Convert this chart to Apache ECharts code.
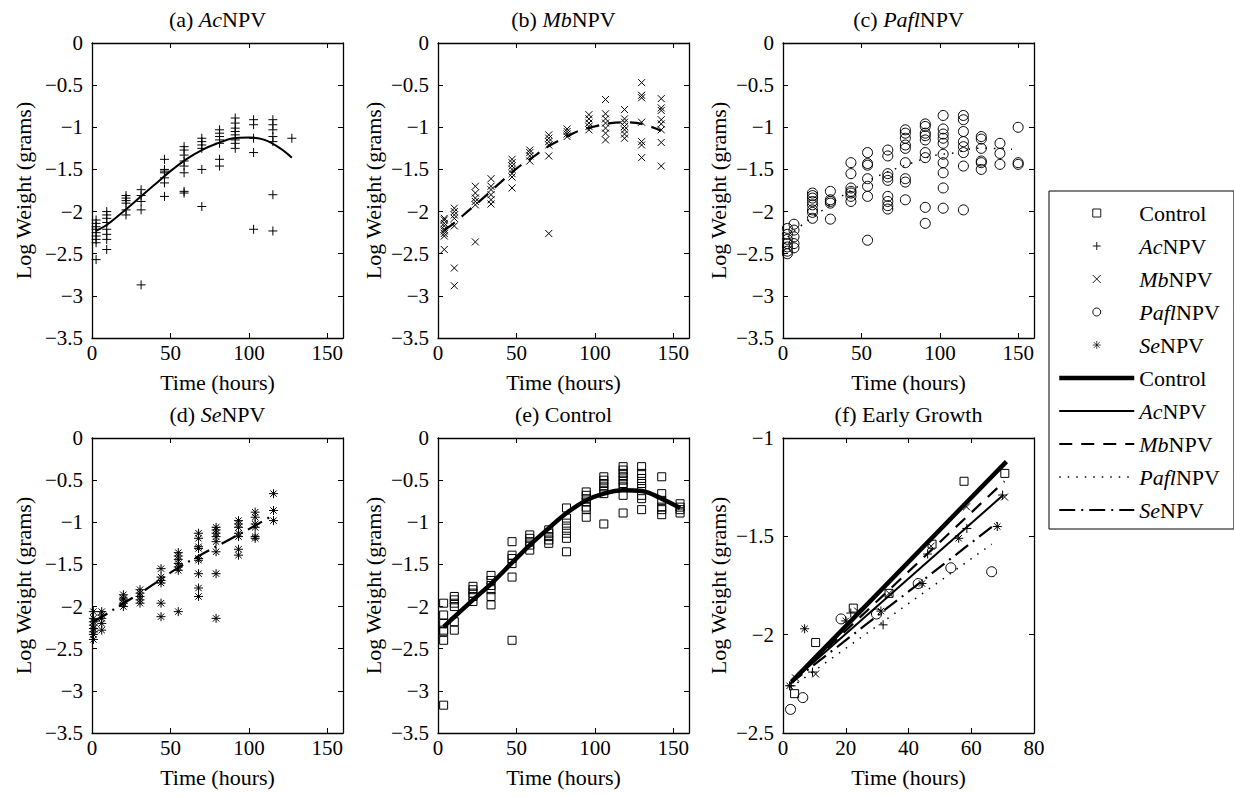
<!DOCTYPE html>
<html><head><meta charset="utf-8">
<script src="https://cdn.jsdelivr.net/npm/echarts@6/dist/echarts.min.js"></script>
<style>html,body{margin:0;padding:0;background:#fff}#chart{width:1234px;height:798px}</style>
</head><body><div id="chart"></div>
<script>
// ---------------- DATA ----------------
// (a) AcNPV observations: sampling times and the observed log weights at each time
const acTimes = [2.6, 9.4, 21.7, 31.3, 46.2, 58.7, 70.0, 81.3, 91.3, 103.0, 115.3, 127.4];
const acValues = [
  [-2.10,-2.14,-2.18,-2.21,-2.25,-2.29,-2.33,-2.37,-2.57],
  [-2.00,-2.04,-2.08,-2.13,-2.21,-2.27,-2.33,-2.45],
  [-1.81,-1.84,-1.87,-1.90,-1.98,-2.04],
  [-1.74,-1.81,-1.88,-1.98,-2.87],
  [-1.38,-1.50,-1.52,-1.54,-1.60,-1.66,-1.82],
  [-1.23,-1.27,-1.33,-1.40,-1.46,-1.54,-1.76,-1.78],
  [-1.13,-1.17,-1.21,-1.25,-1.50,-1.94],
  [-1.03,-1.07,-1.11,-1.15,-1.19,-1.38,-1.46],
  [-0.89,-0.95,-1.01,-1.05,-1.09,-1.15,-1.19,-1.25],
  [-0.91,-0.97,-1.13,-1.30,-2.21],
  [-0.91,-0.97,-1.03,-1.11,-1.17,-1.80,-2.23],
  [-1.13]
];
const acFitHours = [2.6, 10, 20, 30, 40, 50, 60, 70, 80, 90, 100, 110, 120, 127.4];
const acFitValues = [-2.23,-2.15,-2.00,-1.84,-1.68,-1.52,-1.38,-1.27,-1.19,-1.13,-1.12,-1.15,-1.25,-1.36];

// (b) MbNPV
const mbTimes = [4.0, 10.4, 23.8, 33.8, 47.2, 58.5, 70.6, 82.3, 96.2, 106.8, 118.9, 129.8, 142.3];
const mbValues = [
  [-2.08,-2.10,-2.14,-2.17,-2.21,-2.23,-2.26,-2.29,-2.45],
  [-1.96,-2.00,-2.04,-2.08,-2.17,-2.67,-2.88],
  [-1.70,-1.78,-1.84,-1.88,-1.92,-2.36],
  [-1.61,-1.70,-1.74,-1.80,-1.86,-1.91],
  [-1.38,-1.42,-1.46,-1.50,-1.55,-1.59,-1.72],
  [-1.27,-1.30,-1.34,-1.40],
  [-1.09,-1.13,-1.17,-1.21,-1.34,-2.26],
  [-1.02,-1.05,-1.08,-1.11],
  [-0.85,-0.90,-0.95,-0.99,-1.03],
  [-0.67,-0.84,-0.90,-0.95,-1.01,-1.07,-1.15],
  [-0.79,-0.90,-0.94,-0.99,-1.03,-1.08,-1.13],
  [-0.47,-0.62,-0.65,-0.94,-1.17,-1.21,-1.36],
  [-0.66,-0.77,-0.80,-0.91,-0.96,-1.03,-1.18,-1.46]
];
const mbFitHours = [4, 10, 20, 30, 40, 50, 60, 70, 80, 90, 100, 110, 120, 130, 142.3];
const mbFitValues = [-2.22,-2.14,-1.98,-1.82,-1.65,-1.49,-1.36,-1.23,-1.13,-1.04,-0.99,-0.95,-0.94,-0.96,-1.04];

// (c) PaflNPV
const pfTimes = [2.8, 7.0, 18.8, 30.2, 43.3, 53.9, 66.8, 78.0, 90.7, 102.1, 115.0, 126.4, 138.3, 149.9];
const pfValues = [
  [-2.20,-2.27,-2.33,-2.38,-2.42,-2.47,-2.50],
  [-2.15,-2.22,-2.30,-2.38,-2.43],
  [-1.78,-1.81,-1.84,-1.88,-1.92,-1.98,-2.01,-2.08],
  [-1.76,-1.86,-1.88,-1.90,-2.09],
  [-1.42,-1.55,-1.72,-1.76,-1.78,-1.82,-1.88],
  [-1.30,-1.43,-1.45,-1.61,-1.70,-1.82,-2.34],
  [-1.27,-1.34,-1.55,-1.59,-1.63,-1.82,-1.88,-1.93,-1.97],
  [-1.03,-1.07,-1.13,-1.21,-1.25,-1.42,-1.61,-1.65,-1.86],
  [-0.96,-0.99,-1.07,-1.10,-1.15,-1.30,-1.36,-1.95,-2.14],
  [-0.86,-1.02,-1.08,-1.13,-1.19,-1.32,-1.42,-1.54,-1.72,-1.96],
  [-0.86,-0.91,-1.05,-1.17,-1.23,-1.30,-1.46,-1.98],
  [-1.11,-1.14,-1.25,-1.40,-1.42,-1.50],
  [-1.19,-1.31,-1.44],
  [-1.00,-1.42,-1.44]
];
const pfFitHours = [3, 14, 25.6, 37.2, 50, 62.6, 72, 82.7, 95.3, 110, 123, 131, 146];
const pfFitValues = [-2.30,-2.13,-1.98,-1.82,-1.68,-1.56,-1.49,-1.42,-1.34,-1.30,-1.25,-1.25,-1.26];

// (d) SeNPV
const seTimes = [0.9, 6.2, 20.0, 30.6, 44.0, 55.0, 67.9, 79.1, 93.4, 104.0, 115.7];
const seValues = [
  [-2.06,-2.14,-2.18,-2.22,-2.26,-2.30,-2.33,-2.39],
  [-2.06,-2.10,-2.14,-2.20,-2.28],
  [-1.86,-1.90,-1.92,-1.96,-2.00],
  [-1.80,-1.84,-1.88,-1.92,-1.96],
  [-1.55,-1.65,-1.69,-1.72,-1.96,-2.12],
  [-1.36,-1.40,-1.44,-1.49,-1.53,-1.57,-2.06],
  [-1.13,-1.19,-1.29,-1.31,-1.43,-1.45,-1.61,-1.78,-1.88],
  [-1.06,-1.09,-1.13,-1.17,-1.23,-1.35,-1.61,-2.14],
  [-0.98,-1.02,-1.06,-1.13,-1.17,-1.32,-1.39],
  [-0.88,-0.94,-1.02,-1.06,-1.17,-1.19],
  [-0.66,-0.86,-0.98]
];
const seFitHours = [1, 10, 20, 30, 42, 54, 69, 80, 90, 103, 115];
const seFitValues = [-2.18,-2.08,-1.96,-1.85,-1.70,-1.55,-1.39,-1.28,-1.18,-1.05,-0.92];

// (e) Control
const ctTimes = [3.6, 10.4, 22.3, 33.8, 47.2, 58.5, 70.6, 81.9, 94.5, 105.7, 118.0, 129.8, 142.6, 154.3];
const ctValues = [
  [-1.96,-2.10,-2.20,-2.28,-2.30,-2.40,-3.17],
  [-1.88,-1.92,-1.96,-2.00,-2.18,-2.28],
  [-1.76,-1.80,-1.84,-1.88,-1.94],
  [-1.63,-1.69,-1.75,-1.80,-1.88,-1.98],
  [-1.23,-1.39,-1.43,-1.49,-1.65,-2.40],
  [-1.15,-1.19,-1.23,-1.27,-1.33],
  [-1.09,-1.13,-1.17,-1.21,-1.25],
  [-0.83,-0.95,-1.01,-1.07,-1.13,-1.19,-1.35],
  [-0.64,-0.68,-0.72,-0.76,-0.82,-0.85,-0.94],
  [-0.46,-0.50,-0.54,-0.58,-0.62,-0.66,-1.02],
  [-0.34,-0.38,-0.42,-0.46,-0.50,-0.54,-0.58,-0.68,-0.89],
  [-0.34,-0.42,-0.48,-0.54,-0.60,-0.68,-0.72,-0.85],
  [-0.46,-0.66,-0.74,-0.82,-0.85,-0.91],
  [-0.78,-0.82,-0.85,-0.89]
];
const ctFitHours = [3.6, 10, 22.3, 33.8, 47.2, 58.5, 70.6, 82, 94.5, 105.7, 118, 130, 142.6, 154.3];
const ctFitValues = [-2.24,-2.13,-1.92,-1.73,-1.48,-1.27,-1.07,-0.89,-0.74,-0.66,-0.62,-0.63,-0.72,-0.83];

// (f) Early growth: mean log weights and fitted lines
const egCtHours = [3.7, 10.4, 22.4, 33.8, 47.5, 57.7, 70.7];
const egCtValues = [-2.30, -2.04, -1.865, -1.79, -1.54, -1.22, -1.18];
const egAcHours = [2.6, 9.4, 21.6, 31.9, 46.1, 58.6, 70.0];
const egAcValues = [-2.26, -2.19, -1.89, -1.95, -1.59, -1.46, -1.29];
const egMbHours = [4.0, 10.4, 23.8, 33.8, 47.2, 58.5, 70.6];
const egMbValues = [-2.22, -2.20, -1.88, -1.79, -1.55, -1.35, -1.30];
const egPfHours = [2.4, 6.3, 18.5, 29.8, 43.1, 53.5, 66.5];
const egPfValues = [-2.38, -2.32, -1.92, -1.895, -1.74, -1.66, -1.68];
const egSeHours = [2.1, 6.9, 20.0, 31.2, 44.3, 56.0, 68.3];
const egSeValues = [-2.26, -1.97, -1.93, -1.88, -1.74, -1.51, -1.45];

const egFitCtHours = [2.7, 71.2];  const egFitCtValues = [-2.24, -1.12];
const egFitAcHours = [2.7, 70.2];  const egFitAcValues = [-2.24, -1.29];
const egFitMbHours = [4.0, 70.6];  const egFitMbValues = [-2.22, -1.22];
const egFitPfHours = [2.4, 66.5];  const egFitPfValues = [-2.27, -1.54];
const egFitSeHours = [2.1, 68.3];  const egFitSeValues = [-2.25, -1.43];

const treatments = ['Control', 'AcNPV', 'MbNPV', 'PaflNPV', 'SeNPV'];
const panelTitles = ['(a) {i|Ac}NPV', '(b) {i|Mb}NPV', '(c) {i|Pafl}NPV', '(d) {i|Se}NPV', '(e) Control', '(f) Early Growth'];
const timeTicksMain = [0, 50, 100, 150];
const timeTicksEarly = [0, 20, 40, 60, 80];

// ---------------- STYLE / LAYOUT ----------------
const FONT = '"Liberation Serif", "Times New Roman", serif';
const displayName = {Control: 'Control', AcNPV: '{i|Ac}NPV', MbNPV: '{i|Mb}NPV', PaflNPV: '{i|Pafl}NPV', SeNPV: '{i|Se}NPV'};
const SYM = {
  Control: {symbol: 'path://M0,0L10,0L10,10L0,10Z', size: 8},
  AcNPV: {symbol: 'path://M5,0L5,10M0,5L10,5', size: 9},
  MbNPV: {symbol: 'path://M0,0L10,10M10,0L0,10', size: 7},
  PaflNPV: {symbol: 'circle', size: 10},
  SeNPV: {symbol: 'path://M5,0L5,10M0,5L10,5M1.46,1.46L8.54,8.54M8.54,1.46L1.46,8.54', size: 9}
};
const FIT = {
  Control: {width: 4.5, type: 'solid'},
  AcNPV: {width: 2, type: 'solid'},
  MbNPV: {width: 2.2, type: [13, 9]},
  PaflNPV: {width: 1.5, type: [1.5, 7]},
  SeNPV: {width: 2.2, type: [16, 6, 2, 6]}
};
const GW = 251, GH = 295;
const panels = [
  {left: 92,  top: 43,  xMax: 160, xInt: 50, ticks: timeTicksMain, yMin: -3.5, yMax: 0, nameGap: 58},
  {left: 438, top: 43,  xMax: 160, xInt: 50, ticks: timeTicksMain, yMin: -3.5, yMax: 0, nameGap: 54},
  {left: 783, top: 43,  xMax: 160, xInt: 50, ticks: timeTicksMain, yMin: -3.5, yMax: 0, nameGap: 54},
  {left: 92,  top: 438, xMax: 160, xInt: 50, ticks: timeTicksMain, yMin: -3.5, yMax: 0, nameGap: 58},
  {left: 438, top: 438, xMax: 160, xInt: 50, ticks: timeTicksMain, yMin: -3.5, yMax: 0, nameGap: 54},
  {left: 783, top: 438, xMax: 80,  xInt: 20, ticks: timeTicksEarly, yMin: -2.5, yMax: -1, nameGap: 54}
];

const grids = [], xAxes = [], yAxes = [], graphics = [];
const axisLine = {show: true, onZero: false, lineStyle: {color: '#000', width: 1.3}};
const axisTick = {show: true, inside: true, length: 5, lineStyle: {color: '#000', width: 1}};
const labelStyle = {color: '#000', fontFamily: FONT, fontSize: 21, fontWeight: 'normal'};
const nameStyle = {color: '#000', fontFamily: FONT, fontSize: 22, fontWeight: 'normal'};
const fmtY = v => (v < 0 ? '\u2212' + String(Math.abs(Math.round(v * 10) / 10)) : String(v));

panels.forEach((p, i) => {
  grids.push({left: p.left, top: p.top, width: GW, height: GH, show: false, outerBoundsMode: 'none'});
  const xBase = {gridIndex: i, type: 'value', min: 0, max: p.xMax, interval: p.xInt, axisLine, axisTick, splitLine: {show: false}};
  xAxes.push(Object.assign({}, xBase, {
    position: 'bottom',
    axisLabel: Object.assign({}, labelStyle, {margin: 4, formatter: v => (p.ticks.indexOf(v) >= 0 ? String(v) : '')}),
    name: 'Time (hours)', nameLocation: 'middle', nameGap: 33, nameTextStyle: nameStyle
  }));
  xAxes.push(Object.assign({}, xBase, {position: 'top', axisLabel: {show: false}}));
  const yBase = {gridIndex: i, type: 'value', min: p.yMin, max: p.yMax, interval: 0.5, axisLine, axisTick, splitLine: {show: false}};
  yAxes.push(Object.assign({}, yBase, {
    position: 'left',
    axisLabel: Object.assign({}, labelStyle, {margin: 9, formatter: fmtY}),
    name: 'Log Weight (grams)', nameLocation: 'middle', nameGap: p.nameGap, nameTextStyle: nameStyle
  }));
  yAxes.push(Object.assign({}, yBase, {position: 'right', axisLabel: {show: false}}));
  graphics.push({
    type: 'text', x: p.left + GW / 2, y: p.top - 24, silent: true,
    style: {
      text: panelTitles[i], fill: '#000', fontFamily: FONT, fontSize: 22, fontWeight: 'normal',
      textAlign: 'center', textVerticalAlign: 'middle', align: 'center', verticalAlign: 'middle',
      rich: {i: {fontStyle: 'italic', fontFamily: FONT, fontSize: 22, fill: '#000'}}
    }
  });
});

const series = [];
function columnsToPairs(times, values) {
  const out = [];
  times.forEach((t, i) => values[i].forEach(v => out.push([t, v])));
  return out;
}
function pairs(h, v) { return h.map((x, i) => [x, v[i]]); }
function addPoints(tr, data, gi) {
  series.push({
    type: 'scatter', name: 'pt ' + tr, xAxisIndex: 2 * gi, yAxisIndex: 2 * gi, data,
    symbol: SYM[tr].symbol, symbolSize: SYM[tr].size, silent: true, z: 2,
    itemStyle: {color: 'rgba(0,0,0,0)', borderColor: '#000', borderWidth: 1, opacity: 1},
    emphasis: {disabled: true}
  });
}
function addFit(tr, data, gi) {
  series.push({
    type: 'line', name: 'fit ' + tr, xAxisIndex: 2 * gi, yAxisIndex: 2 * gi, data,
    smooth: data.length > 2 ? 0.35 : false, symbol: 'none', showSymbol: false, silent: true, z: 3,
    lineStyle: {color: '#000', width: FIT[tr].width, type: FIT[tr].type, cap: 'butt'},
    itemStyle: {color: 'rgba(0,0,0,0)', borderWidth: 0, opacity: 0}, emphasis: {disabled: true}
  });
}
// (a)-(e)
addPoints('AcNPV', columnsToPairs(acTimes, acValues), 0); addFit('AcNPV', pairs(acFitHours, acFitValues), 0);
addPoints('MbNPV', columnsToPairs(mbTimes, mbValues), 1); addFit('MbNPV', pairs(mbFitHours, mbFitValues), 1);
addPoints('PaflNPV', columnsToPairs(pfTimes, pfValues), 2); addFit('PaflNPV', pairs(pfFitHours, pfFitValues), 2);
addPoints('SeNPV', columnsToPairs(seTimes, seValues), 3); addFit('SeNPV', pairs(seFitHours, seFitValues), 3);
addPoints('Control', columnsToPairs(ctTimes, ctValues), 4); addFit('Control', pairs(ctFitHours, ctFitValues), 4);
// (f)
addPoints('Control', pairs(egCtHours, egCtValues), 5);
addPoints('AcNPV', pairs(egAcHours, egAcValues), 5);
addPoints('MbNPV', pairs(egMbHours, egMbValues), 5);
addPoints('PaflNPV', pairs(egPfHours, egPfValues), 5);
addPoints('SeNPV', pairs(egSeHours, egSeValues), 5);
addFit('Control', pairs(egFitCtHours, egFitCtValues), 5);
addFit('AcNPV', pairs(egFitAcHours, egFitAcValues), 5);
addFit('MbNPV', pairs(egFitMbHours, egFitMbValues), 5);
addFit('PaflNPV', pairs(egFitPfHours, egFitPfValues), 5);
addFit('SeNPV', pairs(egFitSeHours, egFitSeValues), 5);

const legendData = treatments.map(t => ({name: 'pt ' + t, itemStyle: {borderWidth: t === 'SeNPV' ? 0.7 : 0.9}}))
  .concat(treatments.map(t => ({
    name: 'fit ' + t,
    itemStyle: {opacity: 0, color: 'rgba(0,0,0,0)', borderWidth: 0},
    lineStyle: {width: FIT[t].width, type: FIT[t].type, color: '#000'}
  })));

const chart = echarts.init(document.getElementById('chart'), null, {renderer: 'svg', width: 1234, height: 798});
chart.setOption({
  animation: false,
  backgroundColor: '#fff',
  textStyle: {fontFamily: FONT, color: '#000', fontWeight: 'normal'},
  grid: grids, xAxis: xAxes, yAxis: yAxes, series,
  graphic: graphics,
  legend: {
    data: legendData, orient: 'vertical', left: 1049, top: 191,
    padding: [11, 14, 8, 8], itemWidth: 75, itemHeight: 8, itemGap: 11, symbolKeepAspect: true,
    borderColor: '#000', borderWidth: 1, backgroundColor: '#fff', selectedMode: false,
    formatter: n => displayName[n.replace(/^(pt|fit) /, '')],
    textStyle: {fontFamily: FONT, fontSize: 22, color: '#000', lineHeight: 22, fontWeight: 'normal',
      rich: {i: {fontStyle: 'italic', fontFamily: FONT, fontSize: 22, lineHeight: 22, color: '#000'}}}
  }
});
</script></body></html>
